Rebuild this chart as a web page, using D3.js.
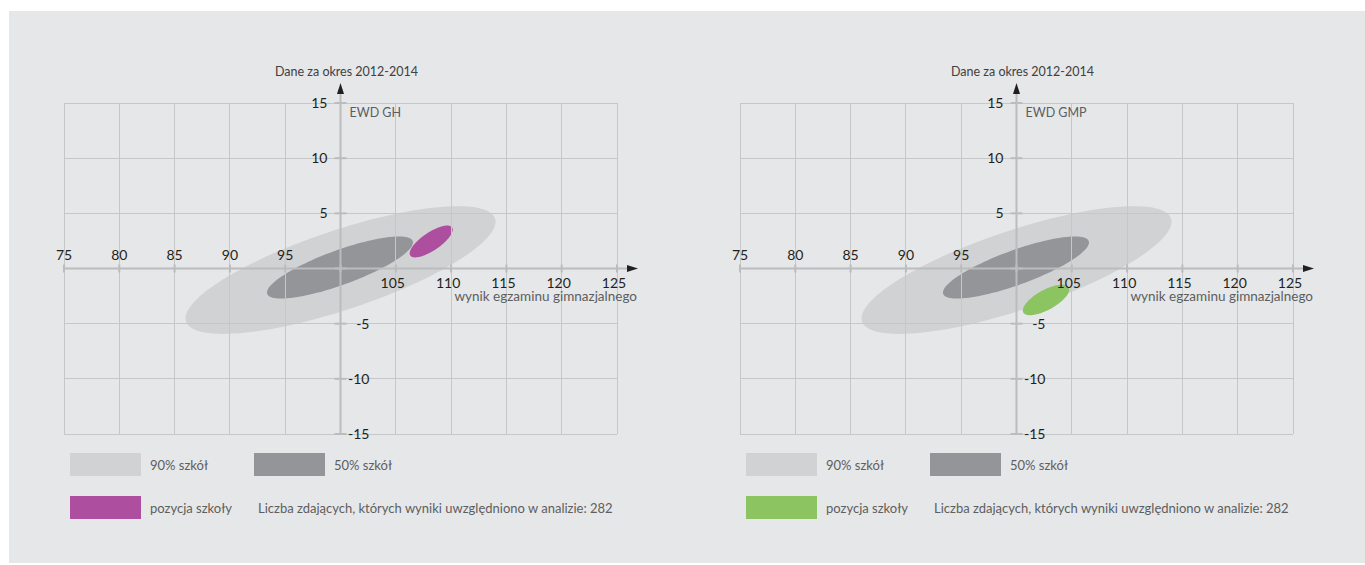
<!DOCTYPE html>
<html><head><meta charset="utf-8">
<script src="https://cdn.jsdelivr.net/npm/d3@7/dist/d3.min.js"></script>
<style>
html,body{margin:0;padding:0;background:#fff;}
svg{display:block;}
text{font-family:Lato,"Open Sans",sans-serif;}
</style></head>
<body><svg id="chart" width="1365" height="565"></svg>
<script>
// ---- data ----
const xTicks = [75, 80, 85, 90, 95, 100, 105, 110, 115, 120, 125];
const yTicks = [-15, -10, -5, 0, 5, 10, 15];
const panelTitles = ["EWD GH", "EWD GMP"];
const periodLabel = "Dane za okres 2012-2014";
const xAxisLabel = "wynik egzaminu gimnazjalnego";
const legendLabels = ["90% szkół", "50% szkół", "pozycja szkoły"];
const countLabel = "Liczba zdających, których wyniki uwzględniono w analizie: 282";
// ellipses: [90% szkół, 50% szkół, pozycja szkoły]
const ghCx = [100.0, 99.95, 108.2];
const ghCy = [-0.14, 0.09, 2.45];
const ghA = [14.73, 7.0, 2.28];
const ghB = [3.6, 1.57, 0.82];
const ghAngle = [18.5, 20, 34];
const gmpCx = [100.0, 99.95, 102.67];
const gmpCy = [-0.14, 0.09, -2.85];
const gmpA = [14.73, 7.0, 2.35];
const gmpB = [3.6, 1.57, 0.9];
const gmpAngle = [18.5, 20, 29];
const ellipseColors = ["#d1d2d4", "#939598"];
const schoolColors = ["#ad4f9e", "#8cc462"];

const svg = d3.select("#chart");
svg.append("rect").attr("x", 9).attr("y", 11).attr("width", 1356).attr("height", 552).attr("fill", "#e6e7e8");

const panelsData = [
  {cx: ghCx, cy: ghCy, a: ghA, b: ghB, ang: ghAngle},
  {cx: gmpCx, cy: gmpCy, a: gmpA, b: gmpB, ang: gmpAngle}
];
const offsets = [0, 676];
const gridCol = "#c6c7c9", axisCol = "#bbbcbe", txt = "#231f20", soft = "#5d5e60";

panelsData.forEach((pd, pi) => {
  const off = offsets[pi];
  const x = d3.scaleLinear().domain([75, 125]).range([64 + off, 617 + off]);
  const y = d3.scaleLinear().domain([-15, 15]).range([434, 103]);
  const g = svg.append("g");
  const fills = [ellipseColors[0], ellipseColors[1], schoolColors[pi]];
  const ts = d3.range(0, 361, 3).map(d => d * Math.PI / 180);
  const line = d3.line().x(d => x(d[0])).y(d => y(d[1]));
  pd.cx.forEach((cx, i) => {
    const th = pd.ang[i] * Math.PI / 180, a = pd.a[i], b = pd.b[i], cy = pd.cy[i];
    const pts = ts.map(t => [cx + a * Math.cos(t) * Math.cos(th) - b * Math.sin(t) * Math.sin(th),
                             cy + a * Math.cos(t) * Math.sin(th) + b * Math.sin(t) * Math.cos(th)]);
    g.append("path").attr("d", line(pts) + "Z").attr("fill", fills[i]);
  });
  // grid
  g.selectAll(".vg").data(xTicks.filter(d => d !== 100)).join("line")
    .attr("x1", d => x(d)).attr("x2", d => x(d)).attr("y1", y(-15)).attr("y2", y(15))
    .attr("stroke", gridCol).attr("stroke-width", 1).attr("shape-rendering", "crispEdges");
  g.selectAll(".hg").data(yTicks.filter(d => d !== 0)).join("line")
    .attr("x1", x(75)).attr("x2", x(125)).attr("y1", d => y(d)).attr("y2", d => y(d))
    .attr("stroke", gridCol).attr("stroke-width", 1).attr("shape-rendering", "crispEdges");
  // axes
  g.append("line").attr("x1", x(75)).attr("x2", x(125) + 11).attr("y1", y(0)).attr("y2", y(0))
    .attr("stroke", axisCol).attr("stroke-width", 2);
  g.append("line").attr("x1", x(100)).attr("x2", x(100)).attr("y1", y(-15)).attr("y2", y(15) - 10)
    .attr("stroke", axisCol).attr("stroke-width", 2);
  // ticks
  g.selectAll(".xt").data(xTicks).join("line")
    .attr("x1", d => x(d)).attr("x2", d => x(d)).attr("y1", y(0) - 4).attr("y2", y(0) + 4)
    .attr("stroke", axisCol).attr("stroke-width", 2);
  g.selectAll(".yt").data(yTicks).join("line")
    .attr("x1", x(100) - 6).attr("x2", x(100) + 6).attr("y1", d => y(d)).attr("y2", d => y(d))
    .attr("stroke", axisCol).attr("stroke-width", 2);
  // arrows
  const ax = x(100), ay = y(15);
  g.append("path").attr("d", `M${ax},${ay - 20}L${ax + 3.5},${ay - 9}L${ax - 3.5},${ay - 9}Z`).attr("fill", "#231f20");
  const bx = x(125), by = y(0);
  g.append("path").attr("d", `M${bx + 21},${by}L${bx + 10},${by - 3.5}L${bx + 10},${by + 3.5}Z`).attr("fill", "#231f20");
  // x tick labels
  g.selectAll(".xl").data(xTicks.filter(d => d !== 100)).join("text")
    .attr("x", d => d < 100 ? x(d) : x(d) - 3)
    .attr("y", d => d < 100 ? y(0) - 9 : y(0) + 19)
    .attr("text-anchor", "middle").attr("font-size", 14).attr("fill", txt).text(d => d);
  // y tick labels
  g.selectAll(".yl").data(yTicks.filter(d => d !== 0)).join("text")
    .attr("x", d => d > 0 ? x(100) - 13 : x(100) + 29)
    .attr("y", d => y(d) + 5)
    .attr("text-anchor", "end").attr("font-size", 14).attr("fill", txt).text(d => d);
  // labels
  g.append("text").attr("x", x(100) + 6).attr("y", 76).attr("text-anchor", "middle")
    .attr("font-size", 12.5).attr("fill", "#414042").text(periodLabel);
  g.append("text").attr("x", x(100) + 9).attr("y", 117).attr("font-size", 12.5).attr("fill", soft).text(panelTitles[pi]);
  g.append("text").attr("x", x(125) + 20).attr("y", 301).attr("text-anchor", "end")
    .attr("font-size", 13.5).attr("fill", soft).text(xAxisLabel);
  // legend
  const lg = [[70, 453], [254, 453], [70, 496]];
  lg.forEach((p, i) => {
    g.append("rect").attr("x", p[0] + off).attr("y", p[1]).attr("width", 71).attr("height", 23).attr("fill", fills[i]);
    g.append("text").attr("x", p[0] + off + 80).attr("y", p[1] + 16.5).attr("font-size", 13)
      .attr("fill", soft).text(legendLabels[i]);
  });
  g.append("text").attr("x", 258 + off).attr("y", 512.5).attr("font-size", 13).attr("fill", soft).text(countLabel);
});
</script></body></html>
